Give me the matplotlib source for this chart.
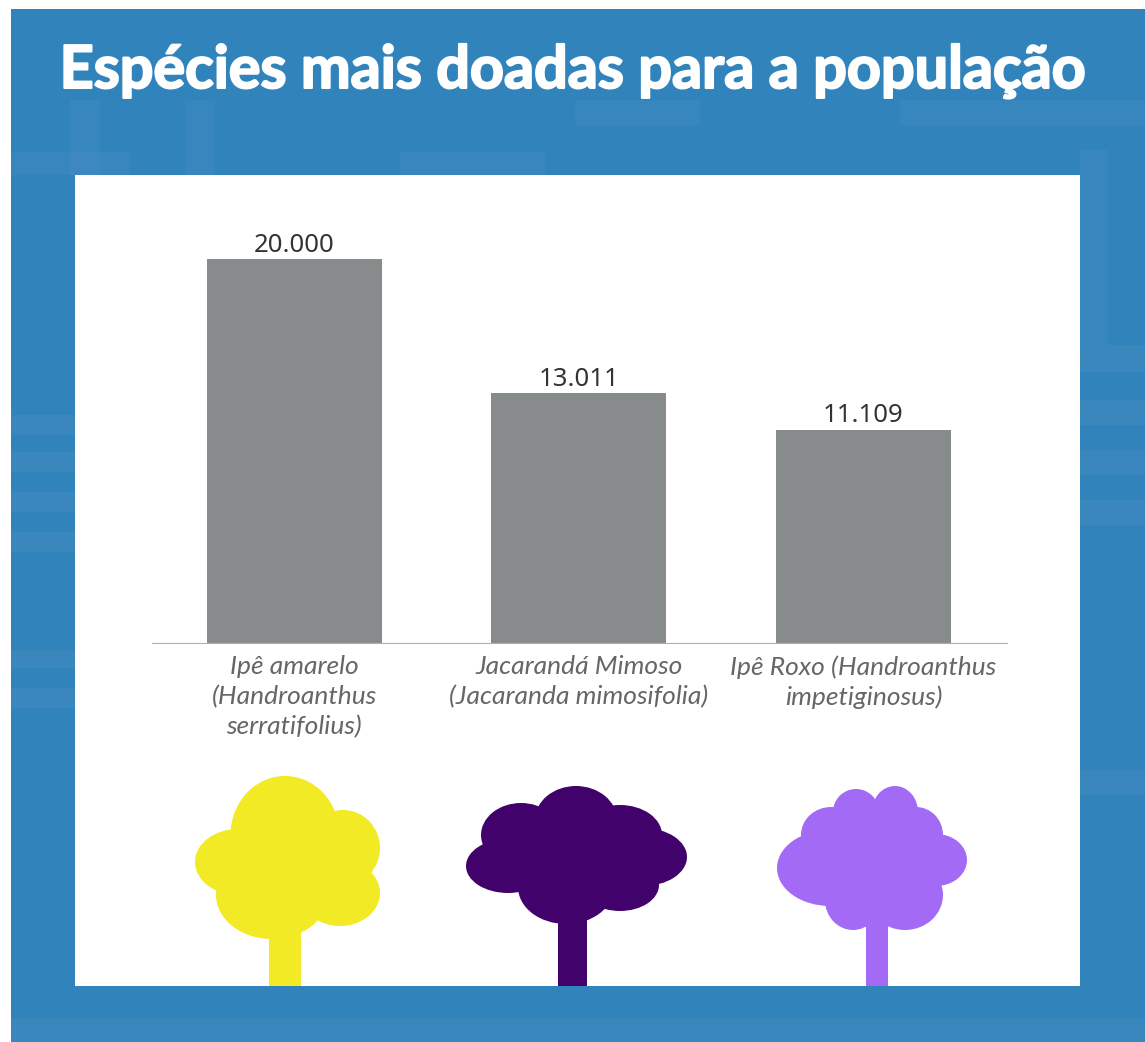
import matplotlib
matplotlib.use("Agg")
from matplotlib import pyplot as plt
from matplotlib import patheffects
from matplotlib.patches import Ellipse, Rectangle

W, H = 1145, 1042

# data
species = ["Ipê amarelo\n(Handroanthus\nserratifolius)",
           "Jacarandá Mimoso\n(Jacaranda mimosifolia)",
           "Ipê Roxo (Handroanthus\nimpetiginosus)"]
donated = [20000, 13011, 11109]
donated_labels = ["20.000", "13.011", "11.109"]
title = "Espécies mais doadas para a população"

# tree crowns in pixels: cx, cy, width, height
yellow_crown = [(285, 835, 109, 118), (343, 848, 74, 76), (238, 862, 86, 66),
                (340, 893, 80, 66), (272, 895, 112, 88), (300, 870, 90, 90)]
dark_crown = [(576, 820, 82, 68), (521, 835, 80, 64), (620, 835, 84, 60), (643, 857, 88, 58),
              (508, 866, 84, 54), (620, 885, 78, 52), (566, 887, 96, 74), (575, 860, 130, 80)]
purple_crown = [(856, 812, 46, 46), (895, 812, 46, 52), (831, 835, 60, 56), (916, 835, 54, 56),
                (936, 860, 62, 52), (830, 868, 106, 76), (880, 872, 120, 72), (853, 900, 56, 60),
                (905, 895, 76, 70), (875, 850, 110, 90)]

fig = plt.figure(figsize=(W / 100, H / 100), dpi=100, facecolor="white")

# background and panels, in pixel coordinates
bg = fig.add_axes([0, 0, 1, 1])
bg.set_xlim(0, W)
bg.set_ylim(H, 0)
bg.axis("off")


def box(x0, y0, x1, y1, color, alpha=1.0, z=1):
    bg.add_patch(Rectangle((x0, y0), x1 - x0, y1 - y0, facecolor=color, edgecolor="none", alpha=alpha, zorder=z))


box(11, 9, W, H, "#3183bb")

# faint maze pattern behind everything
for b in [(11, 152, 130, 175), (70, 100, 100, 175), (185, 100, 215, 175), (400, 152, 545, 175),
          (900, 100, 1145, 125), (575, 100, 700, 125), (1080, 150, 1108, 345)]:
    box(*b, "white", alpha=0.03, z=2)
for b in [(1080, 345, 1145, 372), (1080, 400, 1145, 425), (1080, 450, 1145, 475), (1080, 500, 1145, 525),
          (11, 415, 75, 435), (11, 452, 75, 472), (11, 492, 75, 512), (11, 532, 75, 552),
          (11, 650, 75, 668), (11, 688, 75, 708), (1080, 770, 1145, 795), (11, 1018, 1145, 1042)]:
    box(*b, "white", alpha=0.04, z=2)

box(75, 175, 1080, 986, "white", z=3)

title_text = bg.text(573, 88, title, color="white", fontsize=42.7, fontweight="bold", family="Lato",
                     ha="center", va="baseline", zorder=4)
title_text.set_path_effects([patheffects.withStroke(linewidth=1.5, foreground="white")])


def tree(crown, trunk_x0, trunk_x1, trunk_y0, color):
    for cx, cy, w, h in crown:
        bg.add_patch(Ellipse((cx, cy), w, h, facecolor=color, edgecolor="none", zorder=4))
    box(trunk_x0, trunk_y0, trunk_x1, 986, color, z=4)


tree(yellow_crown, 269, 301, 925, "#f2ea25")
tree(dark_crown, 558, 587, 905, "#42026b")
tree(purple_crown, 866, 888, 905, "#a36bf5")

# the chart itself
ax = fig.add_axes([152 / W, 1 - 643 / H, (1007 - 152) / W, (643 - 211) / H])
ax.patch.set_alpha(0)
bars = ax.bar(range(3), donated, width=0.615, color="#888b8b")
ax.bar_label(bars, labels=donated_labels, padding=1, fontsize=18.5, color="#333333", family="Noto Sans")
ax.set_xlim(-0.5, 2.505)
ax.set_ylim(0, 22500)
ax.set_yticks([])
ax.set_xticks(range(3))
ax.set_xticklabels(species, fontsize=19, style="italic", color="#666666", family="Lato", linespacing=1.33)
ax.tick_params(axis="x", length=0, pad=9)
for side in ["top", "left", "right"]:
    ax.spines[side].set_visible(False)
ax.spines["bottom"].set_color("#b0b0b0")

plt.savefig("out.png", dpi=100)
